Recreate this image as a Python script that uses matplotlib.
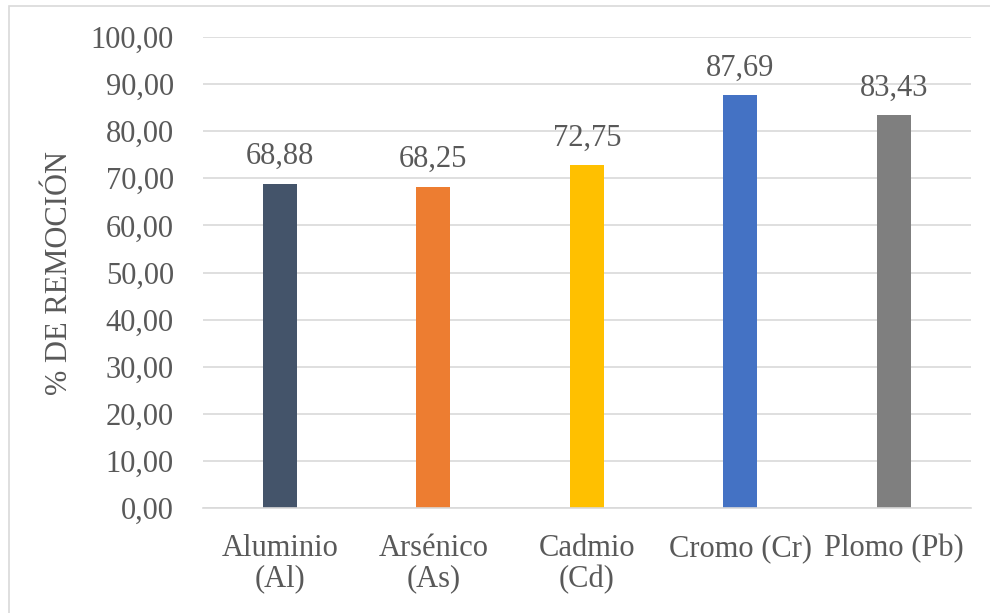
import matplotlib
matplotlib.use("Agg")
import matplotlib.pyplot as plt
from matplotlib.patches import Rectangle

# Porcentaje de remoción por metal
metales = ["Aluminio\n(Al)", "Arsénico\n(As)", "Cadmio\n(Cd)", "Cromo (Cr)", "Plomo (Pb)"]
remocion = [68.88, 68.25, 72.75, 87.69, 83.43]
colores = ["#44546A", "#ED7D31", "#FFC000", "#4472C4", "#7F7F7F"]
yticks = [0, 10, 20, 30, 40, 50, 60, 70, 80, 90, 100]

texto = "#595959"
plt.rcParams["font.family"] = ["Liberation Serif", "DejaVu Serif"]

fig = plt.figure(figsize=(9.9, 6.13), dpi=100)
ax = fig.add_axes([0.205, 0.1713, 0.7755, 0.7683])

x = list(range(len(metales)))
ax.bar(x, remocion, width=0.22, color=colores, zorder=3)

for xi, v in zip(x, remocion):
    ax.annotate(f"{v:.2f}".replace(".", ","), (xi, v), xytext=(0, 9),
                textcoords="offset points", ha="center", va="bottom",
                fontsize=22, color=texto)

ax.set_xlim(-0.5, len(metales) - 0.5)
ax.set_ylim(0, 100)
ax.set_yticks(yticks)
ax.set_yticklabels([f"{t:.2f}".replace(".", ",") for t in yticks])
ax.set_xticks(x)
ax.set_xticklabels(metales, linespacing=1.05)

ax.grid(axis="y", color="#D9D9D9", linewidth=1.2, zorder=0)
for s in ["top", "right", "left"]:
    ax.spines[s].set_visible(False)
ax.spines["bottom"].set_color("#D9D9D9")
ax.spines["bottom"].set_linewidth(1.2)
ax.spines["bottom"].set_zorder(4)

ax.tick_params(axis="both", length=0, labelsize=22, labelcolor=texto)
ax.tick_params(axis="y", pad=21)
ax.tick_params(axis="x", pad=19)

ax.set_ylabel("% DE REMOCIÓN", fontsize=22, color=texto)
ax.yaxis.set_label_coords(-0.168, 0.5)

# marco exterior del gráfico
fig.patches.append(Rectangle((9 / 990, -0.01), 1.0, 1 - 6 / 613 + 0.01,
                             transform=fig.transFigure, fill=False,
                             edgecolor="#D9D9D9", linewidth=1.2))

fig.savefig("out.png", dpi=100)
